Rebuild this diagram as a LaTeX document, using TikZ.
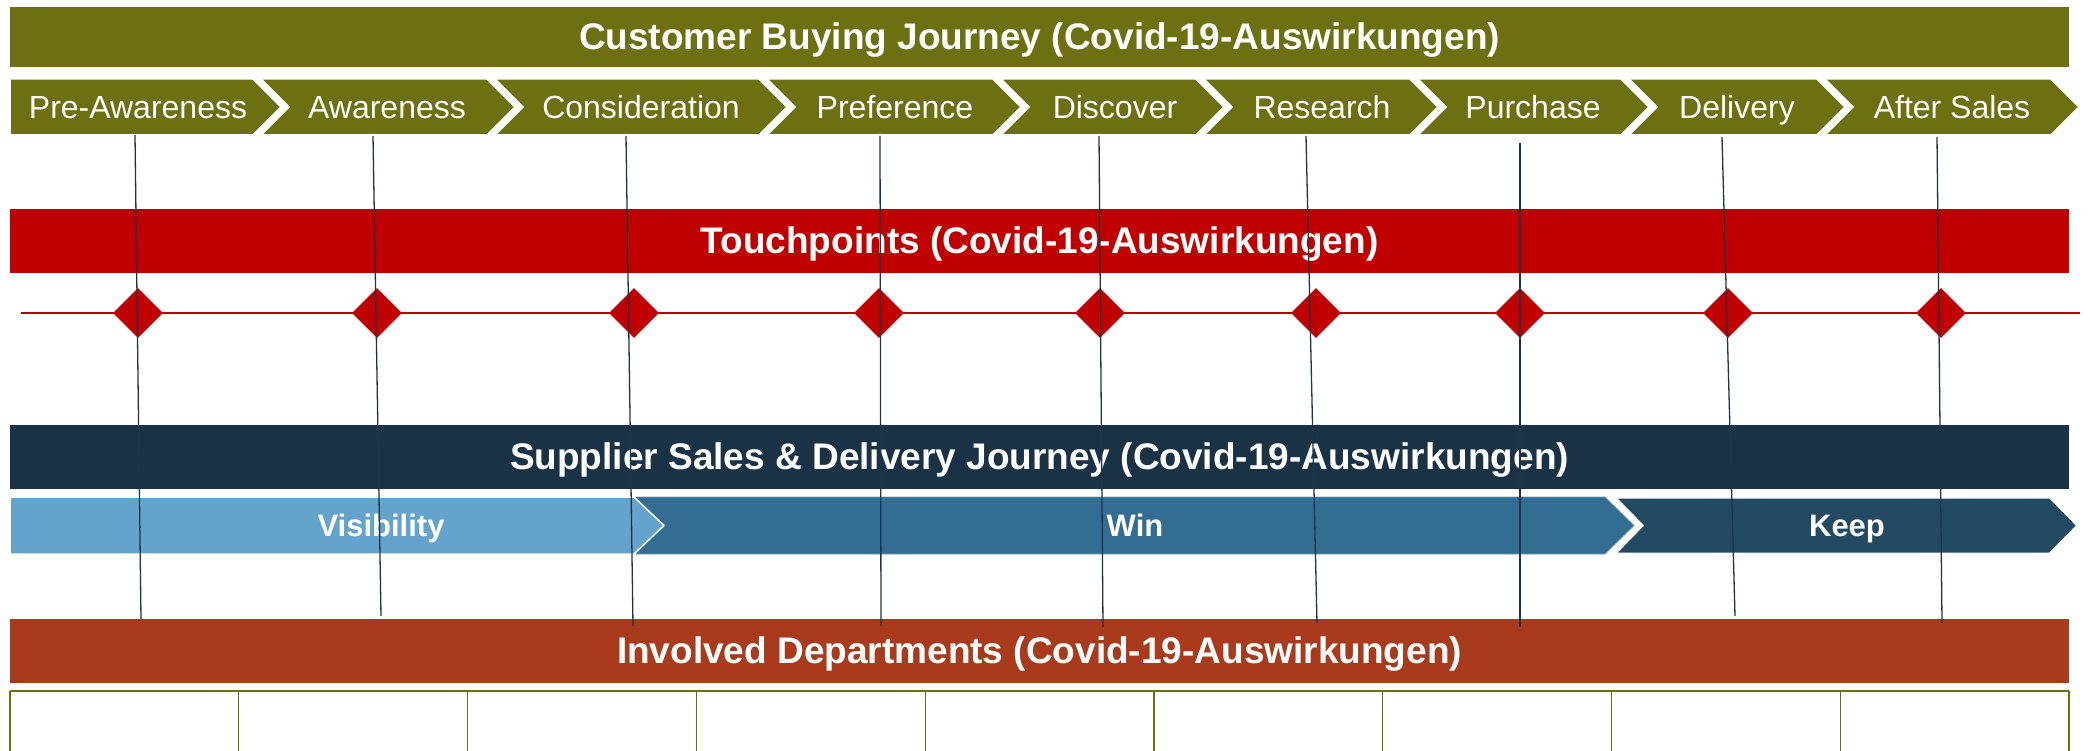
\documentclass[tikz,border=0pt]{standalone}
\usepackage{fontspec}
\setmainfont{Liberation Sans}
\usetikzlibrary{shapes.geometric}

\definecolor{olivebar}{RGB}{108,112,16}
\definecolor{touchred}{RGB}{192,0,0}
\definecolor{suppnavy}{RGB}{25,50,70}
\definecolor{visblue}{RGB}{99,163,204}
\definecolor{winblue}{RGB}{51,110,146}
\definecolor{keepblue}{RGB}{35,74,99}
\definecolor{deptbrown}{RGB}{169,59,28}
\definecolor{guide}{RGB}{30,52,72}

\begin{document}
\begin{tikzpicture}[x=1pt,y=-1pt,
  bar/.style={draw=none, inner sep=0pt, outer sep=0pt, minimum width=2059pt, minimum height=#1},
  bartitle/.style={text=white, inner sep=0pt, anchor=base, yshift=-12.8pt,
    font=\fontsize{37}{44}\selectfont\bfseries},
  stagelabel/.style={text=white, inner sep=0pt, anchor=base,
    font=\fontsize{32}{38}\selectfont},
  phaselabel/.style={text=white, inner sep=0pt, anchor=base,
    font=\fontsize{31}{37}\selectfont\bfseries},
  touch/.style={shape=diamond, fill=touchred, draw=none, inner sep=0pt,
    minimum width=50pt, minimum height=50pt},
  guideline/.style={draw=guide, line width=1.3pt},
  gridline/.style={draw=olivebar, line width=1.2pt}
]
\useasboundingbox (0,0) rectangle (2090,751);

% ---- horizontal bars ----
\node[bar=60pt, fill=olivebar] (cbj) at (1039.5,37) {};
\node[bar=64pt, fill=touchred] (tp) at (1039.5,241) {};
\node[bar=64pt, fill=suppnavy] (ssd) at (1039.5,457) {};
\node[bar=64pt, fill=deptbrown] (dep) at (1039.5,651) {};

% ---- customer journey stages (chevrons) ----
\foreach \l/\r/\n/\lx/\txt [count=\i] in {
  10/253/0/138/Pre-Awareness,
  261/487/28/387/Awareness,
  495/759/28/641/Consideration,
  767/993/28/895/Preference,
  1001/1196/28/1115/Discover,
  1204/1410/28/1322/Research,
  1418/1621/28/1533/Purchase,
  1629/1817/28/1737/Delivery,
  1825/2051/28/1952/After Sales}{
  \path[fill=olivebar, draw=white, line width=1.5pt]
    (\l,79) -- (\r,79) -- (\r+28,107) -- (\r,135) -- (\l,135) -- (\l+\n,107) -- cycle;
  \node[stagelabel] (stage\i) at (\lx,118.2) {\txt};
}

% ---- touchpoint line and markers ----
\coordinate (tpl) at (21,313);
\coordinate (tpr) at (2080,313);
\draw[touchred, line width=1.5pt] (tpl) -- (tpr);
\foreach \cx [count=\i] in {138,377,634,879,1100,1316,1520,1728,1941}{
  \node[touch] (tp\i) at (\cx,313) {};
}

% ---- supplier phases ----
\path[fill=winblue, draw=winblue!70!white, line width=0.8pt]
  (636,497) -- (1605,497) -- (1634,525.5) -- (1605,554) -- (636,554) -- cycle;
\path[fill=visblue, draw=white, line width=1.5pt]
  (10,497) -- (634,497) -- (664,525.5) -- (634,554) -- (10,554) -- cycle;
\path[fill=keepblue, draw=white, line width=3pt]
  (1614,497) -- (2050,497) -- (2078,525.5) -- (2050,554) -- (1614,554) -- (1642,525.5) -- cycle;

% ---- departments grid ----
\draw[olivebar, line width=2pt] (10,691) -- (2069,691);
\foreach \k in {0,...,9}{
  \draw[gridline] (10+\k*228.78,691) -- (10+\k*228.78,751);
}

% ---- texts ----
\node[bartitle] (cbjt) at (cbj.center) {Customer Buying Journey (Covid-19-Auswirkungen)};
\node[bartitle] (tpt) at (tp.center) {Touchpoints (Covid-19-Auswirkungen)};
\node[bartitle] (ssdt) at (ssd.center) {Supplier Sales \& Delivery Journey (Covid-19-Auswirkungen)};
\node[bartitle] (dept) at (dep.center) {Involved Departments (Covid-19-Auswirkungen)};
\node[phaselabel] (vis) at (381,536.2) {Visibility};
\node[phaselabel] (win) at (1135,536.2) {Win};
\node[phaselabel] (keep) at (1847,536.2) {Keep};

% ---- vertical guide lines from each stage, drawn over everything ----
\foreach \tx/\ty/\bx/\by [count=\i] in {
  135/135/141/619,
  373/136/381/616,
  626/136/633/626,
  880/136/881/626,
  1099/136/1103/627,
  1306/136/1317/623,
  1520/143/1520/627,
  1722/137/1735/616,
  1937/137/1942/623}{
  \coordinate (gt\i) at (\tx,\ty);
  \coordinate (gb\i) at (\bx,\by);
  \draw[guideline] (gt\i) -- (gb\i);
}
\end{tikzpicture}
\end{document}
